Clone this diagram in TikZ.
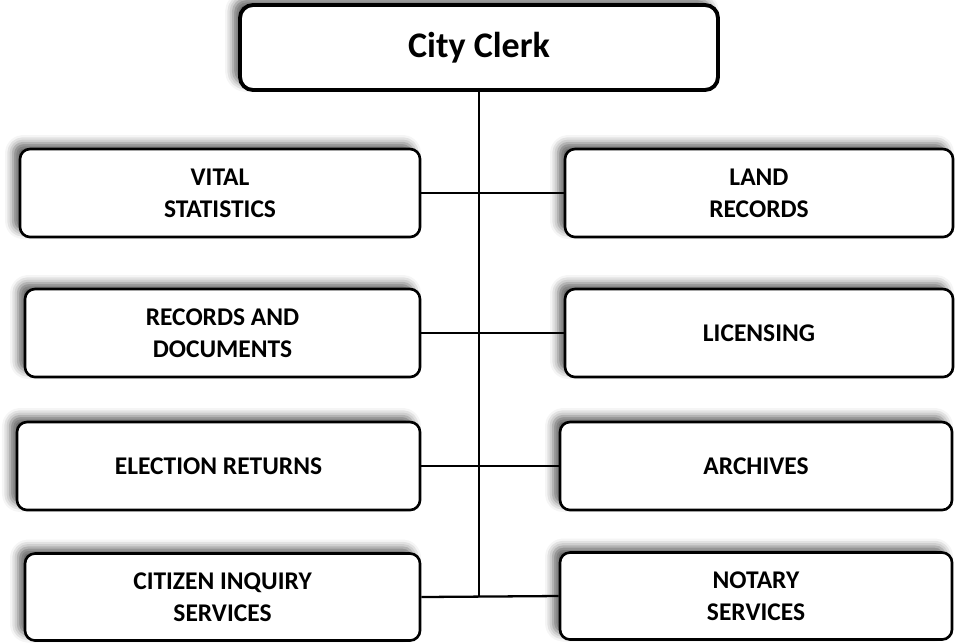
\documentclass[tikz,border=0pt]{standalone}
\usepackage{fontspec}
\setmainfont{Carlito}
\usepackage{tikz}
\usetikzlibrary{shadows.blur}
\tikzset{
roundboxv1/.style={rectangle, rounded corners=0.26cm, draw=black!100, fill=white, line width=2.2pt, inner sep=0pt, minimum width=9.56cm, minimum height=1.7cm, font=\bfseries\fontsize{20.5}{24}\selectfont, blur shadow={shadow xshift=-0.14cm, shadow yshift=0.12cm, shadow blur radius=0.16cm, shadow opacity=60}},
roundboxv2/.style={rectangle, rounded corners=0.2cm, draw=black!100, fill=white, line width=1.5pt, inner sep=0pt, minimum width=7.9cm, minimum height=1.76cm, align=center, font=\bfseries\fontsize{14.5}{18.2}\selectfont, blur shadow={shadow xshift=-0.14cm, shadow yshift=0.12cm, shadow blur radius=0.16cm, shadow opacity=60}},
}

\begin{document}
\begin{tikzpicture}
    \useasboundingbox (0,0) rectangle (19.18,-12.86);
    \node[roundboxv1] at (9.58,-0.95) (clerk) {City Clerk};
    \node[roundboxv2, minimum width=8cm] at (4.4,-3.86) (vital) {VITAL\\STATISTICS};
    \node[roundboxv2, minimum width=7.76cm] at (15.18,-3.86) (land) {LAND\\RECORDS};
    \node[roundboxv2] at (4.45,-6.66) (records) {RECORDS AND\\DOCUMENTS};
    \node[roundboxv2, minimum width=7.76cm] at (15.18,-6.66) (licensing) {LICENSING};
    \node[roundboxv2, minimum width=8.06cm] at (4.37,-9.32) (election) {ELECTION RETURNS};
    \node[roundboxv2, minimum width=7.84cm] at (15.12,-9.32) (archives) {ARCHIVES};
    \node[roundboxv2, minimum height=1.74cm] at (4.45,-11.94) (citizen) {CITIZEN INQUIRY\\SERVICES};
    \node[roundboxv2, minimum width=7.84cm, minimum height=1.74cm] at (15.12,-11.92) (notary) {NOTARY\\SERVICES};
    \coordinate (spineend) at (clerk.south |- citizen.east);
    \draw[line width=1.3pt, black] (clerk.south)--(spineend);
    \draw[line width=1.3pt, black] (vital.east)--(land.west);
    \draw[line width=1.3pt, black] (records.east)--(licensing.west);
    \draw[line width=1.3pt, black] (election.east)--(archives.west);
    \draw[line width=1.3pt, black] (citizen.east)--(notary.west);
\end{tikzpicture}
\end{document}
